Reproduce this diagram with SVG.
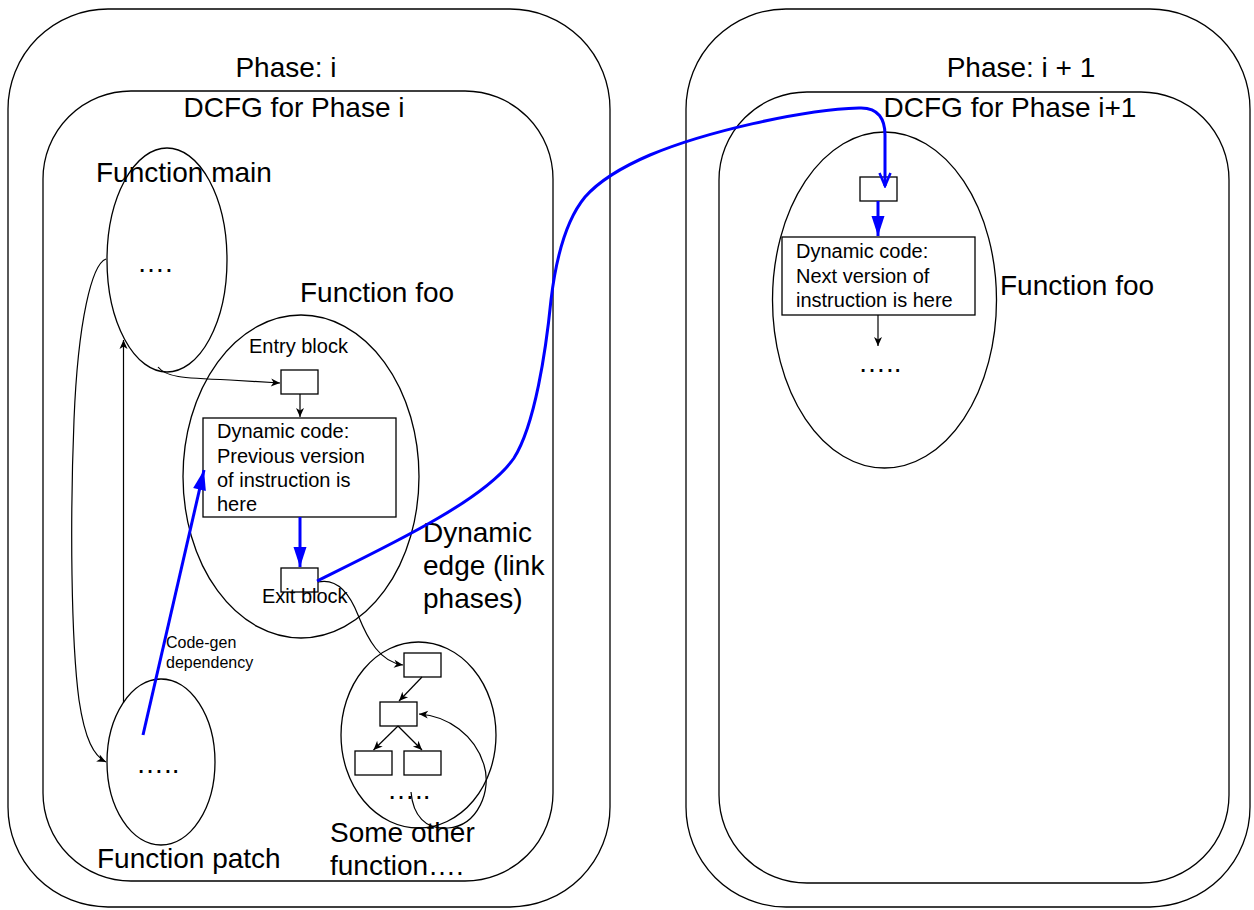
<svg xmlns="http://www.w3.org/2000/svg" width="1254" height="910" viewBox="0 0 1254 910">
<style>
.c{fill:none;stroke:#000;stroke-width:1.3}
.b{fill:#fff;stroke:#000;stroke-width:1.3}
.t{font-family:"Liberation Sans",Arial,sans-serif;fill:#000}
.l{font-size:28px}
.s{font-size:20px}
.xs{font-size:16px}
.k{fill:none;stroke:#000;stroke-width:1.2}
.bl{fill:none;stroke:#0000ff;stroke-width:3}
</style>
<defs>
<marker id="ak" markerUnits="userSpaceOnUse" viewBox="-10 -5 11 10" refX="0" refY="0" markerWidth="11" markerHeight="10" orient="auto">
<path d="M0,0 L-9,-4 L-6.5,0 L-9,4 Z" fill="#000"/>
</marker>
<marker id="abf" markerUnits="userSpaceOnUse" viewBox="-22 -8 23 16" refX="0" refY="0" markerWidth="23" markerHeight="16" orient="auto">
<path d="M0,0 L-20,-6.5 L-20,6.5 Z" fill="#0000ff"/>
</marker>
<marker id="abo" markerUnits="userSpaceOnUse" viewBox="-16 -8 18 16" refX="0" refY="0" markerWidth="18" markerHeight="16" orient="auto">
<path d="M-13,-5.5 L0,0 L-13,5.5" fill="none" stroke="#0000ff" stroke-width="2.5"/>
</marker>
</defs>
<rect width="1254" height="910" fill="#fff"/>

<g id="phase-i">
<rect class="c" x="8" y="9" width="602" height="898" rx="100" ry="100"/>
<text class="t l" x="286" y="77" text-anchor="middle">Phase: i</text>
</g>
<g id="dcfg-i">
<rect class="c" x="43" y="91" width="510" height="790" rx="88" ry="88"/>
<text class="t l" x="294" y="117" text-anchor="middle">DCFG for Phase i</text>
</g>
<g id="phase-i1">
<rect class="c" x="686" y="9" width="564" height="898" rx="100" ry="100"/>
<text class="t l" x="1021" y="77" text-anchor="middle">Phase: i + 1</text>
</g>
<g id="dcfg-i1">
<rect class="c" x="719" y="92" width="510" height="791" rx="88" ry="88"/>
<text class="t l" x="1010" y="117" text-anchor="middle">DCFG for Phase i+1</text>
</g>

<g id="func-main">
<ellipse class="c" cx="167" cy="260" rx="60" ry="112"/>
<text class="t l" x="96" y="182">Function main</text>
<text class="t l" x="137" y="272">….</text>
</g>
<g id="func-foo">
<ellipse class="c" cx="301" cy="476.5" rx="118" ry="161.5"/>
<text class="t l" x="300" y="302">Function foo</text>
<text class="t s" x="249" y="353">Entry block</text>
</g>
<g id="entry-block"><rect class="b" x="281" y="370" width="37" height="24"/></g>
<g id="dyn-code-prev">
<rect class="b" x="203" y="418" width="193" height="99"/>
<text class="t s" x="217" y="438">Dynamic code:</text>
<text class="t s" x="217" y="463">Previous version</text>
<text class="t s" x="217" y="487">of instruction is</text>
<text class="t s" x="217" y="511">here</text>
</g>
<g id="exit-block">
<rect class="b" x="281" y="568" width="37" height="24"/>
<text class="t s" x="262" y="603">Exit block</text>
</g>
<g id="func-patch">
<ellipse class="c" cx="161" cy="762" rx="54" ry="83"/>
<text class="t l" x="136" y="773">…..</text>
<text class="t l" x="97" y="868">Function patch</text>
</g>
<g id="func-other">
<ellipse class="c" cx="418.5" cy="735" rx="77.5" ry="93"/>
<rect class="b" x="404" y="653" width="37" height="24"/>
<rect class="b" x="380" y="702" width="37" height="24"/>
<rect class="b" x="355" y="751" width="37" height="24"/>
<rect class="b" x="404" y="751" width="37" height="24"/>
<text class="t l" x="387" y="799">…..</text>
<text class="t l" x="330" y="842">Some other</text>
<text class="t l" x="330" y="875">function….</text>
</g>
<g id="func-foo-next">
<ellipse class="c" cx="884.5" cy="300" rx="112" ry="168"/>
<rect class="b" x="860" y="177" width="37" height="24"/>
<rect class="b" x="782" y="237" width="193" height="78"/>
<text class="t s" x="796" y="258">Dynamic code:</text>
<text class="t s" x="796" y="283">Next version of</text>
<text class="t s" x="796" y="307">instruction is here</text>
<text class="t l" x="858" y="372">…..</text>
<text class="t l" x="1000" y="295">Function foo</text>
</g>

<g id="labels">
<text class="t l" x="423" y="542">Dynamic</text>
<text class="t l" x="423" y="575">edge (link</text>
<text class="t l" x="423" y="608">phases)</text>
<text class="t xs" x="166" y="648">Code-gen</text>
<text class="t xs" x="166" y="668">dependency</text>
</g>

<g id="connectors">
<path class="k" d="M158,367 C166,377 180,378 230,380 L280,383" marker-end="url(#ak)"/>
<path class="k" d="M300,394 L300,417" marker-end="url(#ak)"/>
<path class="k" d="M106,259 C92,264 78,320 74,420 C70,520 71,640 79,700 C85,740 94,756 106,762" marker-end="url(#ak)"/>
<path class="k" d="M123.5,703 L123.5,340" marker-end="url(#ak)"/>
<path class="k" d="M318,582 C336,578 349,592 358,615 C368,640 380,662 403,665" marker-end="url(#ak)"/>
<path class="k" d="M422,677 L399,701" marker-end="url(#ak)"/>
<path class="k" d="M398,726 L373.5,750" marker-end="url(#ak)"/>
<path class="k" d="M398,726 L422,750" marker-end="url(#ak)"/>
<path class="k" d="M411,792 C413,815 425,830 448,828 C478,826 492,790 484,765 C475,735 448,716 419,714" marker-end="url(#ak)"/>
<path class="k" d="M878,315 L878,346" marker-end="url(#ak)"/>
<path class="bl" d="M300,517 L300,567" marker-end="url(#abf)"/>
<path class="bl" d="M143,735 L204,470" marker-end="url(#abf)"/>
<path class="bl" d="M878,201 L878,236" marker-end="url(#abf)"/>
<path class="bl" d="M317,581 C390,545 485,500 514,458 C535,425 546,350 551,300 C556,258 566,220 585,197 C600,180 622,167 650,155 C705,132 800,110 859,108 C879,107 885,120 885,135 L885,186" marker-end="url(#abo)"/>
</g>
</svg>
